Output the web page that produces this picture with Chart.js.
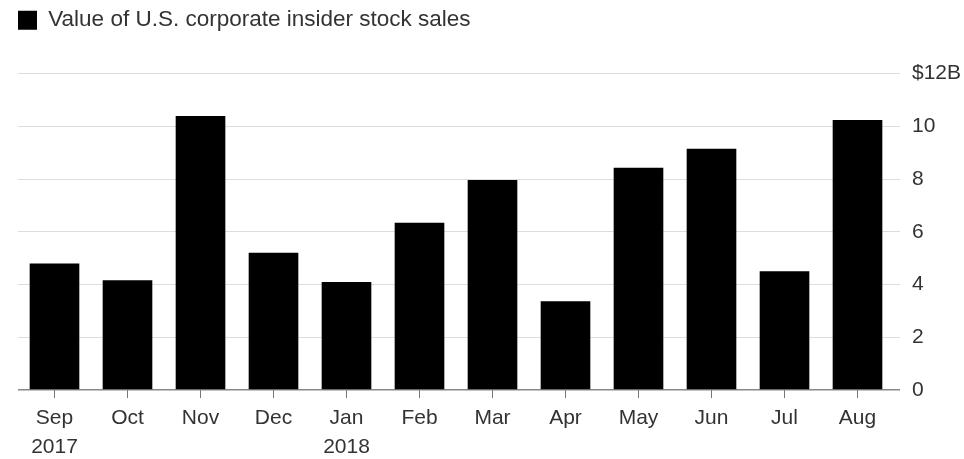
<!DOCTYPE html>
<html lang="en">
<head>
  <meta charset="UTF-8">
  <title>Value of U.S. corporate insider stock sales</title>
  <script src="https://cdn.jsdelivr.net/npm/chart.js"></script>
  <style>
    html, body { margin: 0; padding: 0; background: #fff; }
    #wrap { width: 964px; height: 459px; }
  </style>
</head>
<body>
  <div id="wrap"><canvas id="myChart"></canvas></div>

  <script>
    // data (billions of dollars)
    const months = [['Sep', '2017'], 'Oct', 'Nov', 'Dec', ['Jan', '2018'], 'Feb', 'Mar', 'Apr', 'May', 'Jun', 'Jul', 'Aug'];
    const salesValues = [4.80, 4.16, 10.39, 5.20, 4.10, 6.34, 7.96, 3.37, 8.43, 9.15, 4.50, 10.24];
    const yTicks = [0, 2, 4, 6, 8, 10, 12];

    const FONT = '"Liberation Sans", Arial, sans-serif';
    const TEXT = '#333';

    // extra gap below the legend
    const legendGap = {
      id: 'legendGap',
      beforeInit(chart) {
        const fit = chart.legend.fit;
        chart.legend.fit = function () {
          fit.bind(chart.legend)();
          this.height += 32;
        };
      }
    };

    const ctx = document.getElementById('myChart').getContext('2d');
    new Chart(ctx, {
      type: 'bar',
      data: {
        labels: months,
        datasets: [{
          label: 'Value of U.S. corporate insider stock sales',
          data: salesValues,
          backgroundColor: '#000',
          borderWidth: 0,
          categoryPercentage: 1,
          barPercentage: 0.68
        }]
      },
      options: {
        responsive: true,
        maintainAspectRatio: false,
        animation: false,
        layout: { padding: { left: 18, right: 0, top: 9, bottom: -9 } },
        plugins: {
          tooltip: { enabled: false },
          legend: {
            align: 'start',
            labels: {
              boxWidth: 19,
              boxHeight: 19,
              padding: 0,
              color: TEXT,
              font: { family: FONT, size: 22.5 }
            }
          }
        },
        scales: {
          x: {
            border: { display: false },
            grid: {
              offset: false,
              drawOnChartArea: false,
              drawTicks: true,
              tickLength: 8,
              color: '#777'
            },
            ticks: {
              color: TEXT,
              padding: 6,
              maxRotation: 0,
              autoSkip: false,
              font: { family: FONT, size: 21, lineHeight: 1.38 }
            }
          },
          y: {
            position: 'right',
            min: 0,
            max: 12,
            border: { display: false },
            afterBuildTicks(axis) {
              axis.ticks = yTicks.map(v => ({ value: v }));
            },
            afterFit(axis) {
              axis.width = 70;
            },
            grid: {
              color: c => c.tick && c.tick.value === 0 ? '#888' : '#ddd',
              lineWidth: c => c.tick && c.tick.value === 0 ? 1.5 : 1,
              drawTicks: true,
              tickLength: 6
            },
            ticks: {
              color: TEXT,
              padding: 12,
              font: { family: FONT, size: 21 },
              callback: v => v === 12 ? '$12B' : v
            }
          }
        }
      },
      plugins: [legendGap]
    });
  </script>
</body>
</html>
